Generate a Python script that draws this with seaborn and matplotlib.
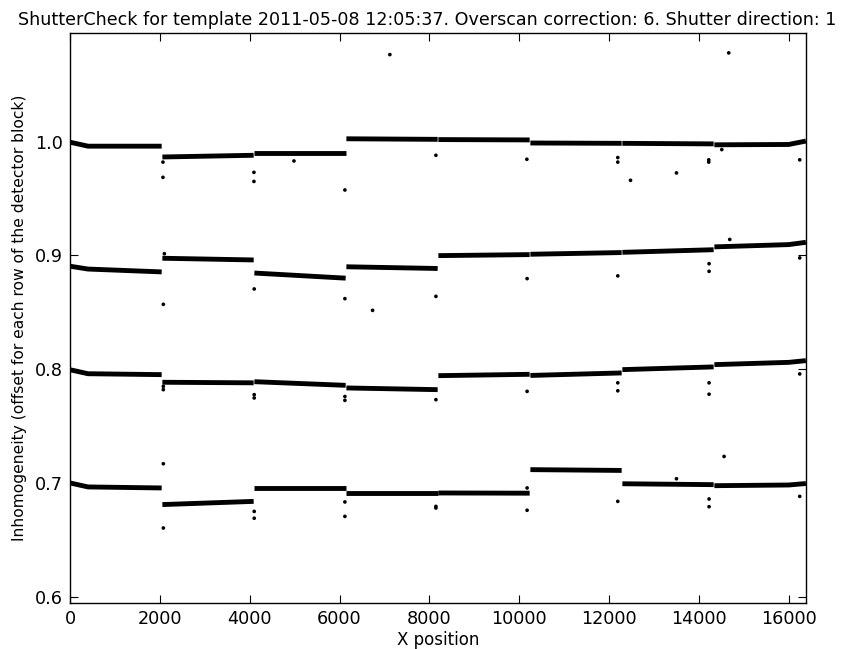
import numpy as np
import pandas as pd
import matplotlib
matplotlib.use("Agg")
import matplotlib.pyplot as plt
import seaborn as sns

# knot positions along X (block edges of the detector, 8 blocks of 2048 px)
knot_x = [0, 400, 2040, 2056, 4088, 4104, 6136, 6152, 8184, 8200,
          10232, 10248, 12280, 12296, 14328, 14344, 16000, 16380]
knot_block = [0, 0, 0, 1, 1, 2, 2, 3, 3, 4, 4, 5, 5, 6, 6, 7, 7, 7]

row1_y = [0.9995, 0.996, 0.996, 0.9865, 0.988, 0.990, 0.990, 1.0025, 1.002,
          1.0018, 1.0015, 0.9988, 0.9985, 0.9985, 0.998, 0.9972, 0.9975, 1.0005]
row2_y = [0.8905, 0.888, 0.8855, 0.8975, 0.896, 0.8845, 0.880, 0.8900, 0.8885,
          0.8998, 0.9007, 0.9010, 0.9025, 0.9027, 0.905, 0.9075, 0.9095, 0.9115]
row3_y = [0.7995, 0.796, 0.7952, 0.7885, 0.788, 0.789, 0.7858, 0.7835, 0.782,
          0.7943, 0.7955, 0.7945, 0.7967, 0.7996, 0.802, 0.804, 0.806, 0.8075]
row4_y = [0.700, 0.6965, 0.6956, 0.681, 0.6838, 0.6956, 0.6956, 0.6912, 0.6912,
          0.6912, 0.6910, 0.7117, 0.711, 0.6993, 0.6985, 0.6976, 0.6982, 0.6995]

# isolated outlier points
outlier_x = [2069, 2069, 4094, 4094, 4985, 8145, 6119, 10170, 7120, 14664,
             12194, 12194, 12477, 13500, 14219, 14219, 16244, 14509,
             2077, 4100, 6119, 6735, 8145, 10175, 12194, 14226, 14226, 14686, 16244, 2100,
             2077, 2077, 4100, 4100, 6119, 6119, 8145, 10175, 12194, 12194,
             14226, 14226, 16244,
             2077, 2077, 4100, 4100, 6119, 6119, 8145, 8145, 10175, 10175,
             12194, 13500, 14226, 14226, 14560, 16244]
outlier_y = [0.982, 0.9686, 0.973, 0.965, 0.983, 0.988, 0.9575, 0.9845, 1.0765, 1.078,
             0.986, 0.982, 0.966, 0.9725, 0.984, 0.982, 0.984, 0.993,
             0.857, 0.8705, 0.862, 0.8517, 0.864, 0.8796, 0.882, 0.8927, 0.886, 0.914, 0.8978, 0.9015,
             0.7849, 0.782, 0.7776, 0.7747, 0.776, 0.7726, 0.7732, 0.7805, 0.788, 0.781,
             0.788, 0.778, 0.7958,
             0.7169, 0.6604, 0.675, 0.669, 0.6833, 0.6706, 0.6794, 0.678, 0.6956, 0.676,
             0.6838, 0.7037, 0.6859, 0.6791, 0.7233, 0.6882]

rows = {"r1": row1_y, "r2": row2_y, "r3": row3_y, "r4": row4_y}
frames = []
for name, vals in rows.items():
    frames.append(pd.DataFrame({"x": knot_x, "y": vals, "row": name,
                                "unit": [f"{name}_{b}" for b in knot_block]}))
lines = pd.concat(frames, ignore_index=True)
outliers = pd.DataFrame({"x": outlier_x, "y": outlier_y})

sns.set_style("ticks")
plt.rcParams["font.family"] = ["DejaVu Sans"]
plt.rcParams["xtick.direction"] = "in"
plt.rcParams["ytick.direction"] = "in"
plt.rcParams["text.color"] = "black"
plt.rcParams["axes.labelcolor"] = "black"

fig = plt.figure(figsize=(8.55, 6.49), dpi=100)
ax = fig.add_axes([0.0819, 0.0709, 0.8608, 0.8783])

sns.lineplot(data=lines, x="x", y="y", units="unit", estimator=None,
             color="black", linewidth=3.5, ax=ax, legend=False)
for l in ax.lines:
    l.set_solid_capstyle("butt")
sns.scatterplot(data=outliers, x="x", y="y", color="black", s=7,
                edgecolor="none", ax=ax, legend=False)

ax.set_xlim(0, 16384)
ax.set_ylim(0.5945, 1.0955)
ax.set_xticks([0, 2000, 4000, 6000, 8000, 10000, 12000, 14000, 16000])
ax.set_yticks([0.6, 0.7, 0.8, 0.9, 1.0])
ax.tick_params(axis="both", which="both", direction="in", top=True, right=True,
               length=6, width=0.8, labelsize=12.7, pad=5, colors="black")
for s in ax.spines.values():
    s.set_linewidth(1.0)
    s.set_color("black")
ax.set_xlabel("X position", fontsize=12, labelpad=2, color="black")
ax.set_ylabel("Inhomogeneity (offset for each row of the detector block)", fontsize=11.2,
              color="black", labelpad=6)
fig.text(0.5, 1 - 25 / 649, "ShutterCheck for template 2011-05-08 12:05:37. Overscan correction: 6. Shutter direction: 1",
         ha="center", va="baseline", fontsize=12.6, color="black")

fig.savefig("out.png", dpi=100)
